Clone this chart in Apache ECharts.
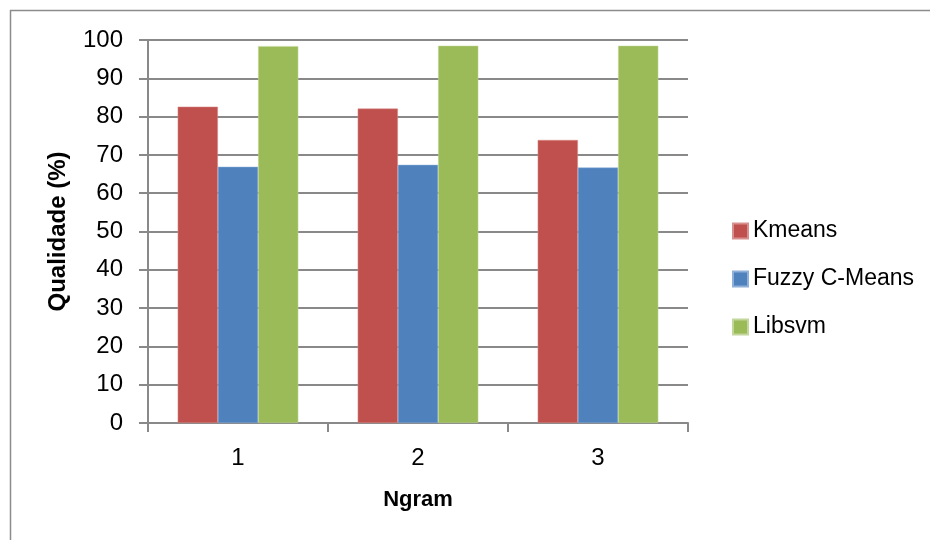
<!DOCTYPE html>
<html><head><meta charset="utf-8">
<script src="https://cdn.jsdelivr.net/npm/echarts@6/dist/echarts.min.js"></script>
<style>html,body{margin:0;padding:0;background:#fff}#c{width:930px;height:540px}</style>
</head><body><div id="c"></div>
<script>
const categories = ['1', '2', '3'];
const kmeans = [82.6, 82.1, 73.9];
const fuzzy = [66.9, 67.4, 66.7];
const libsvm = [98.4, 98.5, 98.5];
const yTicks = [0, 10, 20, 30, 40, 50, 60, 70, 80, 90, 100];

const FONT = '"Liberation Sans", Arial, sans-serif';
const GRIDC = '#898989';
const chart = echarts.init(document.getElementById('c'), null, {renderer: 'canvas'});
chart.setOption({
  animation: false,
  backgroundColor: '#fff',
  textStyle: {fontFamily: FONT},
  graphic: [
    {type: 'line', shape: {x1: 10, y1: 10.5, x2: 930, y2: 10.5}, style: {stroke: '#8c8c8c', lineWidth: 1.5}},
    {type: 'line', shape: {x1: 10.5, y1: 10, x2: 10.5, y2: 540}, style: {stroke: '#8c8c8c', lineWidth: 1.5}}
  ],
  grid: {left: 148, right: 242, top: 40, bottom: 117, containLabel: false},
  legend: {
    orient: 'vertical', left: 732, top: 219, padding: 0, itemWidth: 15, itemHeight: 15, itemGap: 24,
    icon: 'rect',
    textStyle: {fontFamily: FONT, fontSize: 23, color: '#000', lineHeight: 24},
    data: ['Kmeans', 'Fuzzy C-Means', 'Libsvm']
  },
  xAxis: {
    type: 'category', data: categories,
    name: 'Ngram', nameLocation: 'middle', nameGap: 66,
    nameTextStyle: {fontFamily: FONT, fontSize: 22, fontWeight: 'bold', color: '#000'},
    axisLine: {lineStyle: {color: GRIDC, width: 2}},
    axisTick: {show: true, length: 9, lineStyle: {color: GRIDC, width: 2}, alignWithLabel: false},
    axisLabel: {fontFamily: FONT, fontSize: 24, color: '#000', margin: 23}
  },
  yAxis: {
    type: 'value', min: 0, max: 100, interval: 10,
    name: 'Qualidade (%)', nameLocation: 'middle', nameGap: 78, nameRotate: 90,
    nameTextStyle: {fontFamily: FONT, fontSize: 24, fontWeight: 'bold', color: '#000'},
    axisLine: {show: true, lineStyle: {color: GRIDC, width: 2}},
    axisTick: {show: true, length: 9, lineStyle: {color: GRIDC, width: 2}},
    splitLine: {show: true, lineStyle: {color: GRIDC, width: 2}},
    axisLabel: {fontFamily: FONT, fontSize: 24, color: '#000', margin: 25,
      formatter: v => yTicks.includes(v) ? String(v) : ''}
  },
  series: [
    {name: 'Kmeans', type: 'bar', data: kmeans, barGap: '0%', barCategoryGap: '33%',
     itemStyle: {color: '#C0504D', borderColor: '#d8908e', borderWidth: 0.5}},
    {name: 'Fuzzy C-Means', type: 'bar', data: fuzzy, barGap: '0%', barCategoryGap: '33%',
     itemStyle: {color: '#4F81BD', borderColor: '#8fb0d8', borderWidth: 0.5}},
    {name: 'Libsvm', type: 'bar', data: libsvm, barGap: '0%', barCategoryGap: '33%',
     itemStyle: {color: '#9BBB59', borderColor: '#c3d69b', borderWidth: 0.5}}
  ]
});
</script></body></html>
